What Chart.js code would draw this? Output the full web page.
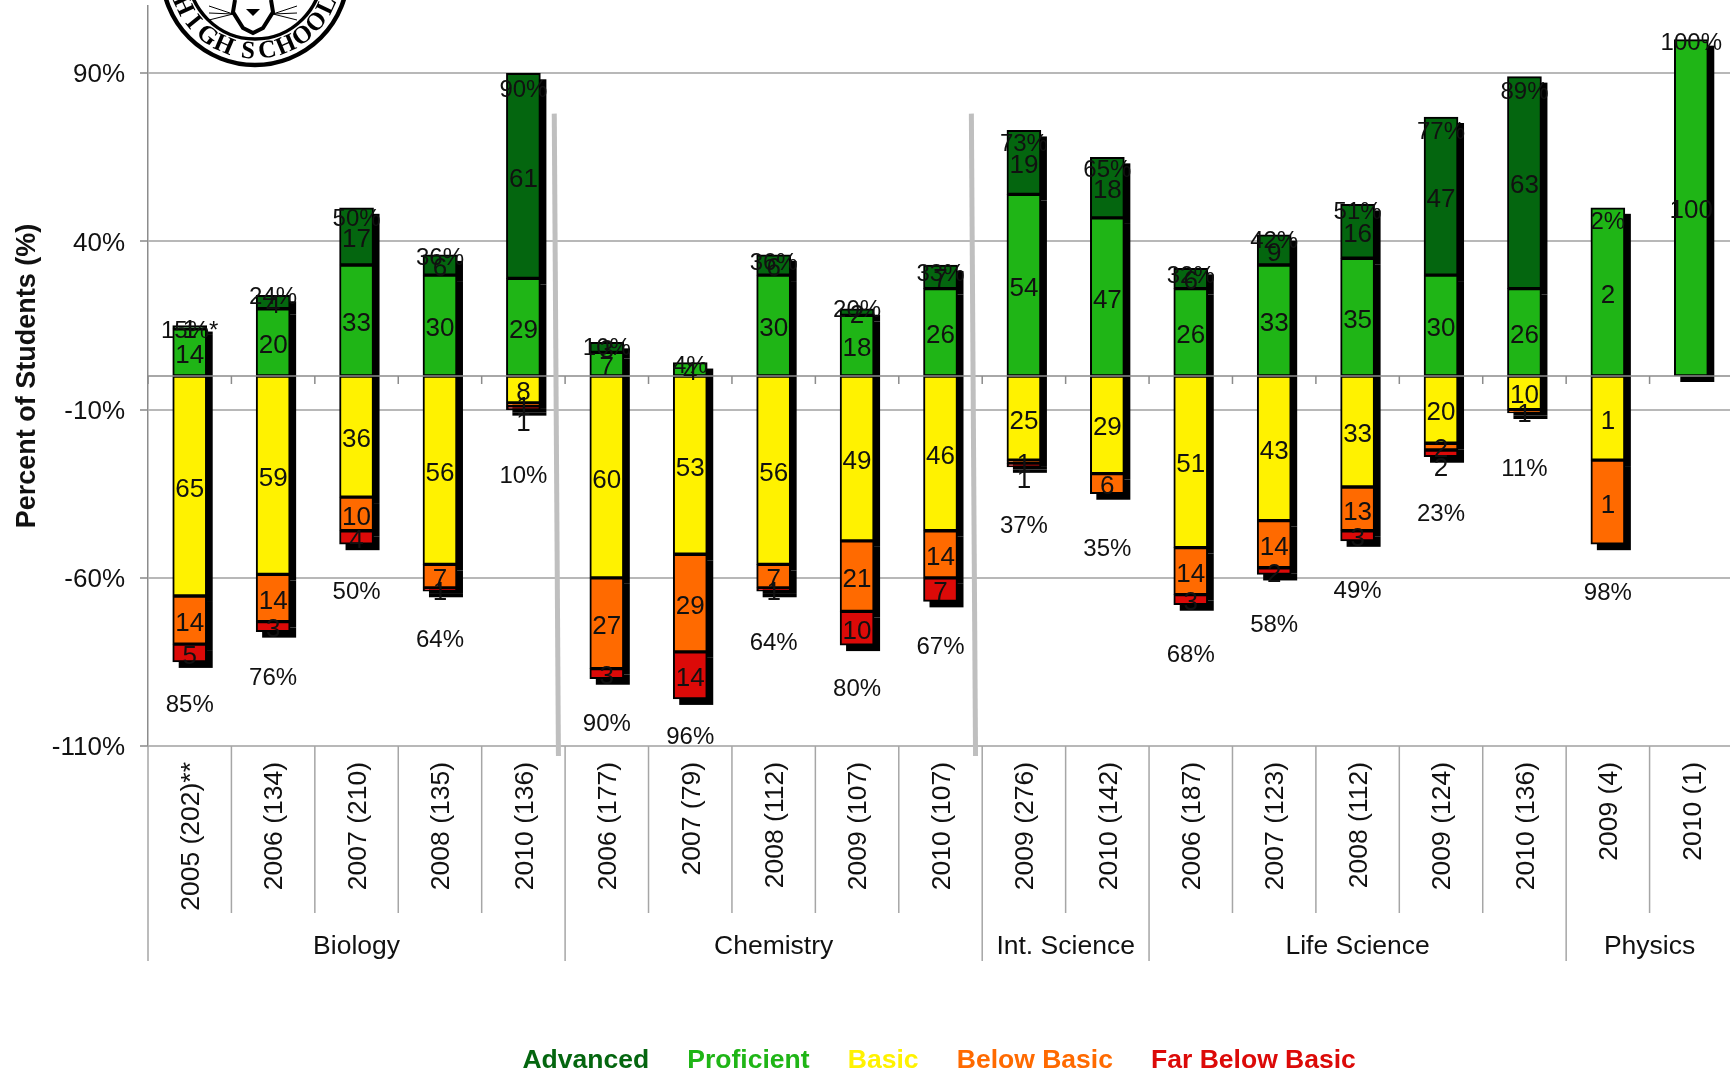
<!DOCTYPE html>
<html>
<head>
<meta charset="utf-8">
<title>Percent of Students</title>
<script src="https://cdn.jsdelivr.net/npm/chart.js@4"></script>
<style>
  html, body { margin: 0; padding: 0; background: #fff; overflow: hidden; }
  canvas { display: block; }
</style>
</head>
<body>
<canvas id="chart" width="1733" height="1075"></canvas>
<script>
const categories = [
  '2005 (202)**', '2006 (134)', '2007 (210)', '2008 (135)', '2010 (136)',
  '2006 (177)', '2007 (79)', '2008 (112)', '2009 (107)', '2010 (107)',
  '2009 (276)', '2010 (142)',
  '2006 (187)', '2007 (123)', '2008 (112)', '2009 (124)', '2010 (136)',
  '2009 (4)', '2010 (1)'
];
const groupNames = ['Biology', 'Chemistry', 'Int. Science', 'Life Science', 'Physics'];
const groupSizes = [5, 5, 2, 5, 2];
const yTicks = [-110, -60, -10, 40, 90];

const proficient = [14, 20, 33, 30, 29, 7, 4, 30, 18, 26, 54, 47, 26, 33, 35, 30, 26, 50, 100];
const advanced = [1, 4, 17, 6, 61, 3, 0, 6, 2, 7, 19, 18, 6, 9, 16, 47, 63, 0, 0];
const basic = [-65.4, -59, -36, -56, -8, -60, -53, -56, -49, -46, -25, -29, -51, -43, -33, -20, -10, -25, 0];
const belowBasic = [-14.3, -14, -10, -7, -1, -27, -29, -7, -21, -14, -1, -6, -14, -14, -13, -2, -1, -25, 0];
const farBelowBasic = [-5.3, -3, -4, -1, -1, -3, -14, -1, -10, -7, -1, 0, -3, -2, -3, -2, 0, 0, 0];

// Physics 2009 is drawn as a percent of 4 students but labelled with the head count
const countLabels = { 17: { Proficient: 2, Basic: 1, 'Below Basic': 1 } };

const upperTotals = ['15%*', '24%', '50%', '36%', '90%', '10%', '4%', '36%', '20%', '33%', '73%', '65%', '32%', '42%', '51%', '77%', '89%', '2%', '100%'];
const upperTotalSeries = [14, 24, 47.3, 35.5, 85.4, 8.9, 3.6, 34.2, 20, 30.9, 69.6, 61.7, 30.2, 40.7, 49.3, 73, 85, 46.3, 99.6];
const lowerTotals = ['85%', '76%', '50%', '64%', '10%', '90%', '96%', '64%', '80%', '67%', '37%', '35%', '68%', '58%', '49%', '23%', '11%', '98%', null];
const lowerTotalSeries = [-97.2, -89.4, -63.8, -77.9, -29.2, -102.9, -106.9, -78.9, -92.7, -80.2, -44, -51, -82.5, -73.6, -63.5, -40.4, -27.3, -64.1, null];

const legendNames = ['Advanced', 'Proficient', 'Basic', 'Below Basic', 'Far Below Basic'];
const legendColors = ['#04660f', '#1fb516', '#fff200', '#ff6a00', '#dc0a08'];
const separatorSlots = [4.4, 9.4];

const FONT = '"Liberation Sans", Arial, sans-serif';
const TEXT = '#111';
const barNames = ['Proficient', 'Advanced', 'Basic', 'Below Basic', 'Far Below Basic'];
const farDropped = new Set([4, 10, 15]);

function barDataset(label, data, color) {
  return {
    label: label,
    data: data,
    backgroundColor: color,
    borderColor: '#000',
    borderWidth: 2,
    borderSkipped: false,
    barThickness: 34,
    stack: 'bars'
  };
}

function hiddenSeries(label, data) {
  return { type: 'line', label: label, data: data, showLine: false, pointRadius: 0, stack: label };
}

function slotEdge(scale, i) {
  return scale.left + i * scale.width / categories.length;
}

// black offset rectangles behind the bars
const shadowPlugin = {
  id: 'shadow',
  beforeDatasetsDraw(chart) {
    const ctx = chart.ctx;
    ctx.save();
    ctx.fillStyle = '#000';
    barNames.forEach((name, d) => {
      chart.getDatasetMeta(d).data.forEach(bar => {
        const top = Math.min(bar.y, bar.base);
        const h = Math.abs(bar.y - bar.base);
        if (h > 0) ctx.fillRect(bar.x - bar.width / 2 + 6, top + 6, bar.width, h);
      });
    });
    ctx.restore();
  }
};

const labelPlugin = {
  id: 'labels',
  afterDatasetsDraw(chart) {
    const ctx = chart.ctx;
    const x = chart.scales.x;
    const y = chart.scales.y;
    ctx.save();

    // zero line with its small ticks
    const y0 = y.getPixelForValue(0);
    ctx.strokeStyle = '#8c8c8c';
    ctx.lineWidth = 1.5;
    ctx.beginPath();
    ctx.moveTo(x.left, y0);
    ctx.lineTo(x.right, y0);
    for (let i = 0; i <= categories.length; i++) {
      ctx.moveTo(slotEdge(x, i), y0);
      ctx.lineTo(slotEdge(x, i), y0 + 8);
    }
    ctx.stroke();

    // category and group dividers under the axis
    ctx.strokeStyle = '#a6a6a6';
    ctx.beginPath();
    for (let i = 0; i <= categories.length; i++) {
      ctx.moveTo(slotEdge(x, i), y.bottom);
      ctx.lineTo(slotEdge(x, i), y.bottom + 167);
    }
    let at = 0;
    ctx.font = '26.5px ' + FONT;
    ctx.fillStyle = TEXT;
    ctx.textAlign = 'center';
    ctx.textBaseline = 'middle';
    groupSizes.forEach((size, g) => {
      ctx.moveTo(slotEdge(x, at), y.bottom);
      ctx.lineTo(slotEdge(x, at), y.bottom + 215);
      ctx.fillText(groupNames[g], slotEdge(x, at + size / 2), y.bottom + 201);
      at += size;
    });
    ctx.moveTo(slotEdge(x, at), y.bottom);
    ctx.lineTo(slotEdge(x, at), y.bottom + 215);
    ctx.stroke();

    // thick grey separators between subjects
    ctx.strokeStyle = '#bfbfbf';
    ctx.lineWidth = 5;
    separatorSlots.forEach(s => {
      ctx.beginPath();
      ctx.moveTo(x.getPixelForValue(s - 0.03), y.getPixelForValue(78));
      ctx.lineTo(x.getPixelForValue(s + 0.02), y.getPixelForValue(-113));
      ctx.stroke();
    });

    // value inside every segment
    ctx.font = '26px ' + FONT;
    ctx.fillStyle = TEXT;
    barNames.forEach((name, d) => {
      chart.getDatasetMeta(d).data.forEach((bar, i) => {
        const v = chart.data.datasets[d].data[i];
        if (!v) return;
        const override = countLabels[i] && countLabels[i][name];
        const text = override !== undefined ? override : Math.round(Math.abs(v));
        const drop = name === 'Far Below Basic' && farDropped.has(i) ? 12 : 0;
        ctx.fillText(String(text), bar.x, (bar.y + bar.base) / 2 + 3.5 + drop);
      });
    });

    // total percent above and below the bars
    ctx.font = '24px ' + FONT;
    [[5, upperTotals], [6, lowerTotals]].forEach(([d, texts]) => {
      chart.getDatasetMeta(d).data.forEach((pt, i) => {
        if (texts[i]) ctx.fillText(texts[i], pt.x, pt.y + 2);
      });
    });
    ctx.restore();
  }
};

// school seal, cut off by the top of the page
const sealPlugin = {
  id: 'seal',
  afterDraw(chart) {
    const ctx = chart.ctx;
    const cx = 255;
    const cy = -28;
    ctx.save();
    ctx.strokeStyle = '#000';
    ctx.lineWidth = 4.5;
    ctx.beginPath();
    ctx.arc(cx, cy, 93, 0, Math.PI * 2);
    ctx.stroke();
    ctx.lineWidth = 3.5;
    ctx.beginPath();
    ctx.arc(cx, cy, 67, 0, Math.PI * 2);
    ctx.stroke();

    ctx.fillStyle = '#000';
    ctx.font = 'bold 25px "Liberation Serif", serif';
    ctx.textAlign = 'center';
    ctx.textBaseline = 'middle';
    const letters = 'HIGH SCHOOL';
    let deg = -65;
    for (let i = 0; i < letters.length; i++) {
      const a = deg * Math.PI / 180;
      ctx.save();
      ctx.translate(cx + 80 * Math.sin(a), cy + 80 * Math.cos(a));
      ctx.rotate(-a);
      ctx.fillText(letters[i], 0, 0);
      ctx.restore();
      deg += (letters[i] === ' ' || letters[i + 1] === ' ') ? 9 : 14;
    }

    // lion muzzle and whiskers
    ctx.translate(cx - 2, 0);
    ctx.lineWidth = 4;
    ctx.beginPath();
    ctx.moveTo(-18, 0);
    ctx.lineTo(-20, 12);
    ctx.lineTo(-10, 28);
    ctx.lineTo(0, 33);
    ctx.lineTo(10, 28);
    ctx.lineTo(20, 12);
    ctx.lineTo(18, 0);
    ctx.stroke();
    ctx.beginPath();
    ctx.moveTo(-7, 9);
    ctx.lineTo(7, 9);
    ctx.lineTo(0, 16);
    ctx.closePath();
    ctx.fill();
    ctx.lineWidth = 1;
    ctx.beginPath();
    [[-1, 6], [-1, 13], [-1, 20], [1, 6], [1, 13], [1, 20]].forEach(([s, w]) => {
      ctx.moveTo(s * 20, 14);
      ctx.lineTo(s * 44, w);
    });
    ctx.stroke();
    ctx.restore();
  }
};

// the legend sits centred under the plot, not under the page
const legendPlugin = {
  id: 'legendSpot',
  afterLayout(chart) {
    const legend = chart.legend;
    legend.left = chart.chartArea.left - 14;
    legend.right = chart.chartArea.right - 2;
    legend.top = 1060 - 13 - legend.options.labels.padding;
  }
};

new Chart(document.getElementById('chart'), {
  type: 'bar',
  data: {
    labels: categories,
    datasets: [
      barDataset('Proficient', proficient, legendColors[1]),
      barDataset('Advanced', advanced, legendColors[0]),
      barDataset('Basic', basic, legendColors[2]),
      barDataset('Below Basic', belowBasic, legendColors[3]),
      barDataset('Far Below Basic', farBelowBasic, legendColors[4]),
      hiddenSeries('upper', upperTotalSeries),
      hiddenSeries('lower', lowerTotalSeries)
    ]
  },
  plugins: [shadowPlugin, labelPlugin, sealPlugin, legendPlugin],
  options: {
    responsive: false,
    animation: false,
    devicePixelRatio: 1,
    layout: { padding: { top: 6, left: 0, right: 0, bottom: 0 } },
    plugins: {
      tooltip: { enabled: false },
      legend: {
        position: 'bottom',
        labels: {
          boxWidth: 0,
          padding: 25,
          font: { family: FONT, size: 26.5, weight: 'bold' },
          generateLabels: () => legendNames.map((name, i) => ({
            text: name,
            fontColor: legendColors[i],
            fillStyle: 'transparent',
            strokeStyle: 'transparent',
            lineWidth: 0
          }))
        }
      }
    },
    scales: {
      x: {
        stacked: true,
        offset: true,
        grid: { display: false },
        border: { display: false },
        afterFit: scale => {
          scale.height = 1075 - 746 - scale.chart.legend.height;
          scale.paddingLeft = 0;
          scale.paddingRight = 0;
        },
        ticks: {
          autoSkip: false,
          minRotation: 90,
          maxRotation: 90,
          padding: 8,
          labelOffset: 2,
          color: TEXT,
          font: { family: FONT, size: 26.5 }
        }
      },
      y: {
        stacked: true,
        min: -110,
        max: 110,
        afterFit: scale => {
          scale.width = 148;
          scale.paddingTop = 0;
          scale.paddingBottom = 0;
        },
        afterBuildTicks: scale => { scale.ticks = yTicks.map(v => ({ value: v })); },
        grid: { color: '#b8b8b8', lineWidth: 2, tickLength: 8, tickColor: '#a6a6a6' },
        border: { color: '#8c8c8c', width: 1.5 },
        title: {
          display: true,
          text: 'Percent of Students (%)',
          color: TEXT,
          font: { family: FONT, size: 27, weight: 'bold' },
          padding: { top: 11, bottom: 0 }
        },
        ticks: {
          padding: 15,
          labelOffset: 2,
          color: TEXT,
          font: { family: FONT, size: 26 },
          callback: v => v + '%'
        }
      }
    }
  }
});
</script>
</body>
</html>
